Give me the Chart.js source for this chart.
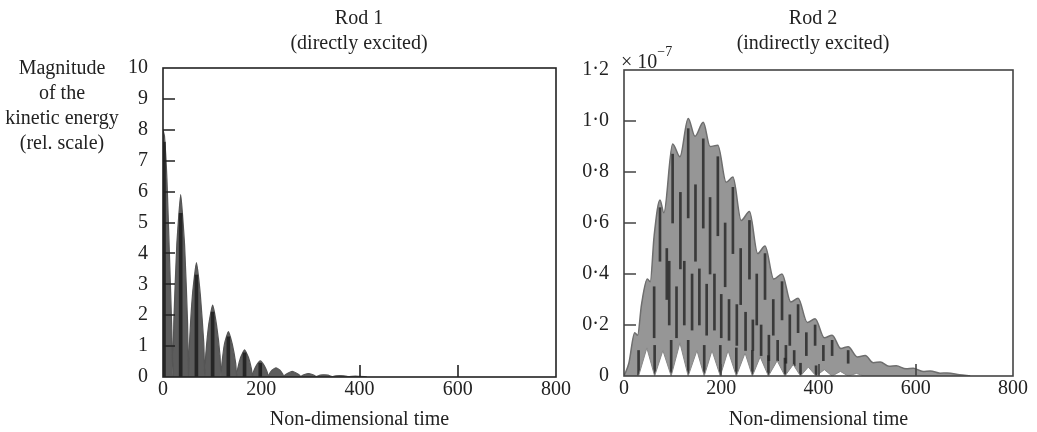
<!DOCTYPE html>
<html>
<head>
<meta charset="utf-8">
<script src="https://cdn.jsdelivr.net/npm/chart.js@4/dist/chart.umd.min.js"></script>
<style>
  body { margin: 0; background: #fff; }
  #page { position: relative; width: 1037px; height: 432px; overflow: hidden;
    font-family: "Liberation Serif", serif; color: #222; }
  canvas { position: absolute; top: 0; }
  .txt { position: absolute; font-size: 20px; line-height: 25px; text-align: center; white-space: nowrap; }
</style>
</head>
<body>
<div id="page">
  <canvas id="rod1" width="580" height="432" style="left:0"></canvas>
  <canvas id="rod2" width="457" height="432" style="left:580px"></canvas>
  <div class="txt" style="left:0;width:124px;top:55px">Magnitude<br>of the<br>kinetic energy<br>(rel. scale)</div>
  <div class="txt" style="left:259px;width:200px;top:5px">Rod 1<br>(directly excited)</div>
  <div class="txt" style="left:713px;width:200px;top:5px">Rod 2<br>(indirectly excited)</div>
  <div class="txt" style="left:621px;top:43px;text-align:left">× 10<sup style="font-size:14px;position:relative;top:-4px">−7</sup></div>
</div>
<script>
// rod 1: spindle-shaped lobes of the kinetic energy, read along the envelope
const tRod1 = [0, 3, 8, 13, 18, 20,
  22, 28, 36, 44, 50, 52,
  54, 60, 68, 76, 83, 85,
  87, 93, 101, 109, 116, 118,
  120, 125, 133, 141, 148, 150,
  152, 158, 166, 174, 180, 182,
  184, 190, 198, 206, 212, 214,
  216, 222, 230, 238, 244, 246,
  248, 255, 263, 271, 278, 280,
  282, 288, 296, 304, 310, 312,
  320, 327, 336, 344, 352, 360, 368, 376, 392, 410, 415];
const eRod1 = [8.0, 7.8, 6.4, 4.0, 1.5, 0,
  1.77, 4.25, 5.9, 4.25, 1.77, 0,
  1.11, 2.66, 3.7, 2.66, 1.11, 0,
  0.7, 1.68, 2.33, 1.68, 0.7, 0,
  0.44, 1.06, 1.47, 1.06, 0.44, 0,
  0.26, 0.63, 0.88, 0.63, 0.26, 0,
  0.16, 0.37, 0.52, 0.37, 0.16, 0,
  0.09, 0.22, 0.30, 0.22, 0.09, 0.01,
  0.055, 0.13, 0.18, 0.13, 0.055, 0.01,
  0.035, 0.08, 0.11, 0.08, 0.035, 0.01,
  0.06, 0.07, 0.06, 0.01, 0.038, 0.045, 0.038, 0.01, 0.03, 0.01, 0];
// dark cores down the middle of the big lobes
const tRod1Core = [2, 36, 68, 101, 133, 166, 198];
const loRod1Core = [0, 0, 0, 0, 0, 0, 0];
const hiRod1Core = [7.6, 5.3, 3.3, 2.1, 1.3, 0.78, 0.45];

// rod 2: upper envelope and the lower envelope (white arches at the base)
const tRod2Upper = [0, 10, 22, 28, 36, 48, 54, 62, 74, 82, 100, 115, 132, 146, 163, 177,
  193, 210, 224, 241, 258, 275, 290, 308, 325, 343, 358, 377, 393, 412, 428, 446, 461,
  480, 496, 513, 527, 545, 560, 580, 595, 615, 630, 650, 665, 690, 712];
const eRod2Upper = [0, 0.05, 0.17, 0.16, 0.28, 0.38, 0.37, 0.55, 0.69, 0.64, 0.91, 0.86, 1.01, 0.94, 0.995, 0.9,
  0.905, 0.76, 0.78, 0.61, 0.645, 0.48, 0.51, 0.38, 0.4, 0.29, 0.305, 0.21, 0.225, 0.15, 0.16, 0.108, 0.115,
  0.075, 0.08, 0.052, 0.055, 0.038, 0.04, 0.028, 0.03, 0.018, 0.02, 0.011, 0.012, 0.005, 0];
const tRod2Lower = [0, 30, 47, 63, 80, 97, 115, 132, 150, 165, 181, 198, 214, 231, 249,
  264, 280, 297, 315, 331, 348, 363, 379, 395, 412, 428, 445, 461, 478, 494];
const eRod2Lower = [0, 0, 0.11, 0, 0.10, 0, 0.13, 0, 0.10, 0, 0.10, 0, 0.10, 0, 0.09,
  0, 0.075, 0, 0.06, 0, 0.045, 0, 0.035, 0, 0.025, 0, 0.018, 0, 0.01, 0];
// dark vertical streaks inside the rod 2 band
const tRod2Streak = [30, 62, 63, 74, 88, 93, 97, 100, 108, 116, 124, 132, 132, 140, 147, 155,
  163, 165, 170, 177, 186, 193, 198, 200, 208, 216, 224, 231, 232, 240, 250, 258, 264, 265,
  273, 282, 290, 297, 298, 307, 316, 325, 331, 333, 341, 350, 358, 363, 375, 393, 395, 410, 428, 461];
const loRod2Streak = [0, 0.15, 0, 0.45, 0.3, 0.2, 0.01, 0.6, 0.15, 0.42, 0.2, 0.62, 0, 0.18, 0.45, 0.2,
  0.58, 0.01, 0.16, 0.4, 0.18, 0.55, 0, 0.15, 0.35, 0.14, 0.48, 0, 0.12, 0.28, 0.1, 0.38, 0, 0.1,
  0.2, 0.08, 0.3, 0, 0.06, 0.16, 0.06, 0.22, 0, 0.05, 0.12, 0.04, 0.17, 0, 0.08, 0.12, 0, 0.06, 0.08, 0.05];
const hiRod2Streak = [0.1, 0.35, 0.12, 0.66, 0.5, 0.45, 0.14, 0.87, 0.35, 0.72, 0.45, 0.97, 0.14, 0.4, 0.75, 0.42,
  0.93, 0.12, 0.36, 0.7, 0.4, 0.86, 0.12, 0.32, 0.6, 0.3, 0.74, 0.11, 0.28, 0.5, 0.25, 0.61, 0.1, 0.22,
  0.4, 0.2, 0.48, 0.08, 0.16, 0.3, 0.14, 0.37, 0.07, 0.12, 0.24, 0.1, 0.28, 0.05, 0.17, 0.2, 0.04, 0.12, 0.14, 0.1];

const xTicks = [0, 200, 400, 600, 800];

const pts = (xs, ys) => xs.map((x, i) => ({ x: x, y: ys[i] }));
const spans = (xs, lo, hi) => xs.map((x, i) => ({ x: x, y: [lo[i], hi[i]] }));
const font = { family: 'Liberation Serif', size: 20 };

// box round the plot with the tick marks drawn inwards
const frameTicks = {
  id: 'frameTicks',
  afterDatasetsDraw(chart, args, opts) {
    const { ctx, chartArea: a, scales: { x, y } } = chart;
    ctx.save();
    ctx.strokeStyle = opts.color;
    ctx.lineWidth = opts.width;
    ctx.beginPath();
    x.ticks.forEach(t => {
      if (t.value <= x.min || t.value >= x.max) return;
      const px = Math.round(x.getPixelForValue(t.value));
      ctx.moveTo(px, a.bottom);
      ctx.lineTo(px, a.bottom - 12);
    });
    y.ticks.forEach(t => {
      if (t.value <= y.min || t.value >= y.max) return;
      const py = Math.round(y.getPixelForValue(t.value));
      ctx.moveTo(a.left, py);
      ctx.lineTo(a.left + 12, py);
    });
    ctx.stroke();
    ctx.strokeRect(a.left, a.top, a.width, a.height);
    ctx.restore();
  }
};

function makeChart(id, cfg) {
  return new Chart(document.getElementById(id), {
    type: 'line',
    data: { datasets: cfg.datasets },
    options: {
      responsive: false,
      animation: false,
      layout: { padding: { top: cfg.top, right: 24, left: 0, bottom: 0 } },
      elements: { point: { radius: 0 } },
      plugins: {
        legend: { display: false },
        tooltip: { enabled: false },
        frameTicks: { color: cfg.frame, width: 1.6 }
      },
      scales: {
        x: {
          type: 'linear', min: 0, max: 800, offset: false,
          afterBuildTicks: s => { s.ticks = xTicks.map(v => ({ value: v })); },
          afterFit: s => { s.height = cfg.xh; },
          grid: { display: false, drawTicks: false },
          border: { display: false },
          ticks: { font: font, color: '#222', padding: 1, maxRotation: 0 },
          title: { display: true, text: 'Non-dimensional time', font: font, color: '#222', padding: 0 }
        },
        y: {
          min: 0, max: cfg.ymax,
          afterBuildTicks: s => { s.ticks = cfg.yTicks.map(v => ({ value: v })); },
          afterFit: s => { s.width = cfg.yw; },
          grid: { display: false, drawTicks: false },
          border: { display: false },
          ticks: { font: font, color: '#222', padding: 15, callback: cfg.yLabel }
        }
      }
    },
    plugins: [frameTicks]
  });
}

makeChart('rod1', {
  top: 68, xh: 55, yw: 163, ymax: 10, frame: '#222',
  yTicks: [0, 1, 2, 3, 4, 5, 6, 7, 8, 9, 10],
  yLabel: v => String(v),
  datasets: [{
    type: 'bar',
    data: spans(tRod1Core, loRod1Core, hiRod1Core),
    order: 0, barThickness: 3,
    backgroundColor: 'rgba(25,25,25,0.8)'
  }, {
    data: pts(tRod1, eRod1),
    order: 1, tension: 0.15,
    borderColor: '#555', borderWidth: 1.2,
    backgroundColor: 'rgb(92,92,92)', fill: 'origin'
  }]
});

makeChart('rod2', {
  top: 70, xh: 56, yw: 44, ymax: 1.2, frame: '#444',
  yTicks: [0, 0.2, 0.4, 0.6, 0.8, 1.0, 1.2],
  yLabel: v => v === 0 ? '0' : v.toFixed(1).replace('.', '·'),
  datasets: [{
    data: pts(tRod2Lower, eRod2Lower),
    order: 0, tension: 0,
    borderColor: '#888', borderWidth: 1,
    backgroundColor: '#fff', fill: 'origin'
  }, {
    type: 'bar',
    data: spans(tRod2Streak, loRod2Streak, hiRod2Streak),
    order: 1, barThickness: 2,
    backgroundColor: 'rgba(35,35,35,0.8)'
  }, {
    data: pts(tRod2Upper, eRod2Upper),
    order: 2, cubicInterpolationMode: 'monotone',
    borderColor: '#6e6e6e', borderWidth: 1.5,
    backgroundColor: '#969696', fill: 'origin'
  }]
});
</script>
</body>
</html>
